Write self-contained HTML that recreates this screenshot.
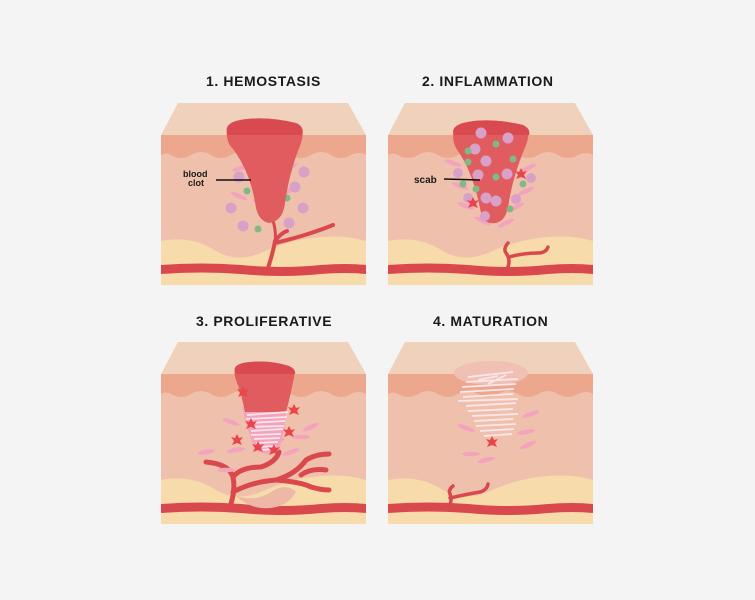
<!DOCTYPE html>
<html><head><meta charset="utf-8"><style>
html,body{margin:0;padding:0;background:#f4f4f4;}
body{width:755px;height:600px;overflow:hidden;}
svg{display:block}
.t{font-family:"Liberation Sans",Arial,sans-serif;font-weight:bold;font-size:14px;fill:#1a1a1a;letter-spacing:0.6px}
.l{font-family:"Liberation Sans",Arial,sans-serif;font-weight:bold;font-size:9px;fill:#1a1a1a}
</style></head><body>
<svg width="755" height="600" viewBox="0 0 755 600">
<defs>
<g id="skin">
<rect x="0" y="32" width="205" height="150" fill="#efc1ad"/>
<path d="M17,0 L187,0 L205,32 L0,32 Z" fill="#f0d1bb"/>
<path d="M0,32 H205 V52 Q198,48 190,52 Q180,58 170,52 Q160,46 150,52 Q140,58 130,52 Q120,46 110,52 Q100,58 90,52 Q80,46 70,52 Q60,58 50,52 Q40,46 30,52 Q20,58 10,52 Q5,49 0,52 Z" fill="#eca78c"/>
<path d="M0,138 Q30,132 55,148 Q75,160 100,150 Q130,136 160,134 Q185,132 205,138 V182 H0 Z" fill="#f8dbaa"/>
<path d="M0,162 Q40,159 80,162 Q120,166 160,162 Q185,160 205,162 V171 Q185,169 160,171 Q120,175 80,171 Q40,168 0,171 Z" fill="#d9484c"/>
</g>
<g id="pink"><ellipse rx="9" ry="2.3" fill="#f3a3bd"/></g>
<g id="star"><path d="M0,-6 L2,-2 L6,-3 L3,1 L5,5 L0,3 L-5,5 L-3,1 L-6,-3 L-2,-2 Z" fill="#e8464a"/></g>
</defs>

<text class="t" x="206" y="86">1.  HEMOSTASIS</text>
<text class="t" x="422" y="86">2. INFLAMMATION</text>
<text class="t" x="196" y="326">3. PROLIFERATIVE</text>
<text class="t" x="433" y="326">4. MATURATION</text>

<!-- Panel 1 -->
<g transform="translate(161,103)">
<use href="#skin"/>
<path d="M106,168 Q112,150 114,138 Q120,130 126,128 M114,140 Q135,135 150,130 Q165,125 172,122" stroke="#d9484c" stroke-width="4" fill="none" stroke-linecap="round"/>
<path d="M109,110 Q116,125 114,140" stroke="#d9484c" stroke-width="3" fill="none"/>
<use href="#pink" transform="translate(80,65) rotate(-15)"/>
<use href="#pink" transform="translate(78,93) rotate(25)"/>
<use href="#pink" transform="translate(130,87) rotate(-25)"/>
<use href="#pink" transform="translate(100,100) rotate(20)"/>
<use href="#pink" transform="translate(128,65) rotate(-30)"/>
<circle cx="78" cy="74" r="5.5" fill="#d9a0c8"/><circle cx="143" cy="69" r="5.5" fill="#d9a0c8"/>
<circle cx="70" cy="105" r="5.5" fill="#d9a0c8"/><circle cx="142" cy="105" r="5.5" fill="#d9a0c8"/>
<circle cx="82" cy="123" r="5.5" fill="#d9a0c8"/><circle cx="128" cy="120" r="5.5" fill="#d9a0c8"/>
<circle cx="134" cy="84" r="5.5" fill="#d9a0c8"/>
<circle cx="86" cy="88" r="3.5" fill="#7fba86"/><circle cx="126" cy="95" r="3.5" fill="#7fba86"/><circle cx="97" cy="126" r="3.5" fill="#7fba86"/>
<path d="M67,38 Q62,22 75,18 Q100,12 135,20 Q145,24 140,40 Q128,70 124,100 Q122,118 108,120 Q98,118 95,105 Q90,70 72,46 Q68,42 67,38 Z" fill="#e05c5e"/>
<path d="M67,32 Q62,22 75,18 Q100,12 135,20 Q144,24 141,32 Z" fill="#d84a50"/>
<text class="l" x="22" y="74">blood</text><text class="l" x="27" y="83">clot</text>
<line x1="55" y1="77" x2="90" y2="77" stroke="#111" stroke-width="1.5"/>
</g>

<!-- Panel 2 -->
<g transform="translate(388,103)">
<use href="#skin"/>
<path d="M118,168 Q124,158 118,150 Q115,146 120,140 M121,154 Q135,150 150,150 Q158,150 160,144" stroke="#d9484c" stroke-width="3.5" fill="none" stroke-linecap="round"/>
<use href="#pink" transform="translate(65,60) rotate(20)"/>
<use href="#pink" transform="translate(140,65) rotate(-25)"/>
<use href="#pink" transform="translate(72,83) rotate(20)"/>
<use href="#pink" transform="translate(138,88) rotate(-25)"/>
<use href="#pink" transform="translate(78,103) rotate(20)"/>
<use href="#pink" transform="translate(128,104) rotate(-25)"/>
<use href="#pink" transform="translate(95,118) rotate(25)"/>
<use href="#pink" transform="translate(118,120) rotate(-25)"/>
<circle cx="70" cy="70" r="5" fill="#d9a0c8"/><circle cx="143" cy="75" r="5" fill="#d9a0c8"/>
<circle cx="80" cy="95" r="5" fill="#d9a0c8"/><circle cx="128" cy="96" r="5" fill="#d9a0c8"/>
<path d="M66,40 Q62,24 75,20 Q100,14 135,22 Q144,26 138,42 Q124,75 120,105 Q116,122 102,120 Q94,118 92,105 Q85,70 70,48 Q67,44 66,40 Z" fill="#e05c5e"/>
<path d="M66,32 Q62,24 75,20 Q100,14 135,22 Q143,26 141,32 Z" fill="#d84a50"/>
<circle cx="93" cy="30" r="5.5" fill="#d9a0c8"/><circle cx="120" cy="35" r="5.5" fill="#d9a0c8"/>
<circle cx="87" cy="46" r="5.5" fill="#d9a0c8"/><circle cx="98" cy="58" r="5.5" fill="#d9a0c8"/>
<circle cx="90" cy="72" r="5.5" fill="#d9a0c8"/><circle cx="119" cy="71" r="5.5" fill="#d9a0c8"/>
<circle cx="98" cy="95" r="5.5" fill="#d9a0c8"/><circle cx="108" cy="98" r="5.5" fill="#d9a0c8"/>
<circle cx="97" cy="113" r="5" fill="#d9a0c8"/>
<circle cx="80" cy="48" r="3.5" fill="#7fba86"/><circle cx="108" cy="41" r="3.5" fill="#7fba86"/>
<circle cx="80" cy="59" r="3.5" fill="#7fba86"/><circle cx="125" cy="56" r="3.5" fill="#7fba86"/>
<circle cx="108" cy="74" r="3.5" fill="#7fba86"/><circle cx="75" cy="81" r="3.5" fill="#7fba86"/>
<circle cx="88" cy="86" r="3.5" fill="#7fba86"/><circle cx="135" cy="81" r="3.5" fill="#7fba86"/>
<circle cx="122" cy="106" r="3.5" fill="#7fba86"/>
<use href="#star" transform="translate(85,100)"/><use href="#star" transform="translate(133,71)"/>
<text class="l" x="26" y="80" style="font-size:10px">scab</text>
<line x1="56" y1="76" x2="92" y2="77" stroke="#111" stroke-width="1.5"/>
</g>

<!-- Panel 3 -->
<g transform="translate(161,342)">
<use href="#skin"/>
<path d="M75,154 Q95,160 110,150 Q125,140 135,150 Q125,168 100,166 Q85,164 75,154 Z" fill="#eeb8a6"/>
<g stroke="#d9484c" stroke-width="5" fill="none" stroke-linecap="round">
<path d="M68,167 Q75,150 72,135 Q68,122 45,120"/>
<path d="M72,135 Q80,125 100,125 Q115,120 118,110"/>
<path d="M72,150 Q90,140 115,138 Q135,132 145,118 Q155,112 168,112"/>
<path d="M115,138 Q140,140 150,145 Q160,148 168,148"/>
<path d="M140,133 Q150,126 165,128"/>
</g>
<use href="#pink" transform="translate(70,80) rotate(20)"/>
<use href="#pink" transform="translate(150,85) rotate(-25)"/>
<use href="#pink" transform="translate(115,100) rotate(-20)"/>
<use href="#pink" transform="translate(45,110) rotate(-10)"/>
<use href="#pink" transform="translate(75,108) rotate(-10)"/>
<use href="#pink" transform="translate(130,110) rotate(-20)"/>
<use href="#pink" transform="translate(140,95) rotate(0)"/>
<use href="#pink" transform="translate(65,128) rotate(0)"/>
<path d="M81,64 Q105,58 125,64 Q124,90 118,108 Q105,115 95,108 Q86,90 81,64 Z" fill="#f3a3bd"/>
<path d="M75,38 Q70,24 82,21 Q105,17 128,24 Q136,28 132,40 Q128,60 125,70 L84,70 Q80,50 75,38 Z" fill="#e05c5e"/>
<path d="M75,32 Q70,24 82,21 Q105,17 128,24 Q135,27 134,32 Z" fill="#d84a50"/>
<g stroke="#fbe6ea" stroke-width="1.8" fill="none">
<path d="M86,73 L127,70 M85,77 L126,75 M88,81 L124,79 M86,85 L123,84 M90,89 L122,87 M90,93 L120,92 M93,97 L119,96 M95,101 L117,100 M97,105 L115,104 M99,108 L113,107"/>
</g>
<use href="#star" transform="translate(82,50)"/><use href="#star" transform="translate(133,68)"/>
<use href="#star" transform="translate(90,82)"/><use href="#star" transform="translate(128,90)"/>
<use href="#star" transform="translate(76,98)"/><use href="#star" transform="translate(97,105)"/>
<use href="#star" transform="translate(113,108)"/>
</g>

<!-- Panel 4 -->
<g transform="translate(388,342)">
<use href="#skin"/>
<path d="M60,167 Q65,158 62,152 Q60,148 65,144 M62,156 Q80,152 92,150 Q99,148 100,142" stroke="#d9484c" stroke-width="3.5" fill="none" stroke-linecap="round"/>
<ellipse cx="103" cy="31" rx="37" ry="12" fill="#f1c0b4"/>
<g stroke="#fbe6ea" stroke-width="1.8" fill="none">
<path d="M80,35 L125,30 M78,40 L130,37 M74,45 L128,42 M72,50 L126,47 M75,55 L125,52 M70,59 L130,57 M78,64 L128,61 M80,69 L125,67 M84,74 L130,72 M86,79 L125,77 M88,84 L128,82 M92,89 L126,87 M96,94 L124,92 M100,42 L118,33 M90,38 L110,34"/>
</g>
<use href="#pink" transform="translate(143,72) rotate(-20)"/>
<use href="#pink" transform="translate(78,86) rotate(20)"/>
<use href="#pink" transform="translate(138,90) rotate(-10)"/>
<use href="#pink" transform="translate(140,103) rotate(-25)"/>
<use href="#pink" transform="translate(83,112) rotate(0)"/>
<use href="#pink" transform="translate(98,118) rotate(-15)"/>
<use href="#star" transform="translate(104,100)"/>
</g>
</svg>
</body></html>
